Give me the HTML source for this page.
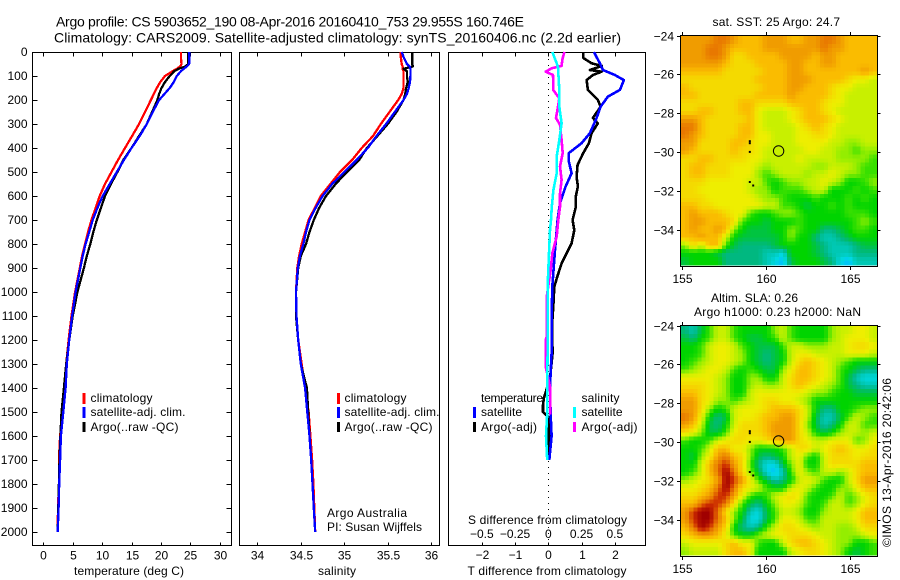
<!DOCTYPE html>
<html lang="en">
<head>
<meta charset="utf-8">
<title>Argo profile chart</title>
<style>
html,body{margin:0;padding:0;background:#fff;}
svg{display:block;font-family:"Liberation Sans",sans-serif;}
text{fill:#000;}
</style>
</head>
<body>
<svg id="chart" xmlns="http://www.w3.org/2000/svg" width="900" height="580" viewBox="0 0 900 580">
<rect x="0" y="0" width="900" height="580" fill="#fff"/>
</svg>
<script>
// ---------- profile data ----------
var profileDepths = [0,20,50,60,70,80,100,125,150,175,200,250,300,350,400,450,500,550,600,650,700,750,800,850,900,1000,1100,1200,1300,1400,1500,1600,1700,1800,1900,2000];
var tempClim = [23.4,23.4,23.5,23.3,22.7,22,20.7,19.9,19.3,18.8,18.3,17.3,16.3,15.1,13.9,12.7,11.6,10.5,9.6,8.9,8.2,7.6,7.1,6.6,6.2,5.4,4.8,4.3,3.9,3.6,3.3,2.85,2.65,2.65,2.5,2.45];
var tempSat = [24.8,24.8,24.8,24.4,23.9,23.4,22.7,22.2,21.5,20.6,19.7,18.6,17.6,16.4,15,13.7,12.5,11.3,10.1,9.2,8.4,7.8,7.2,6.7,6.3,5.5,4.9,4.4,4,3.8,3.4,3,2.85,2.7,2.6,2.45];
var tempArgo = [24.65,24.65,24.65,24.2,23,22.3,21.5,20.7,20.1,19.7,19.4,18.5,17.6,16.3,15,13.6,12.6,11.5,10.5,9.8,9.1,8.5,8,7.4,6.9,5.8,5,4.4,3.9,3.5,3.1,2.9,2.75,2.65,2.55,2.45];
var salClim = [35.65,35.65,35.66,35.67,35.67,35.68,35.68,35.68,35.68,35.66,35.62,35.52,35.42,35.33,35.2,35.09,34.95,34.84,34.73,34.66,34.59,34.55,34.51,34.48,34.46,34.445,34.45,34.47,34.51,34.55,34.59,34.61,34.63,34.645,34.655,34.665];
var salSat = [35.66,35.68,35.72,35.75,35.76,35.76,35.76,35.755,35.74,35.72,35.68,35.58,35.48,35.37,35.27,35.14,35.0,34.86,34.75,34.67,34.6,34.56,34.53,34.49,34.465,34.445,34.45,34.47,34.5,34.55,34.575,34.6,34.62,34.635,34.65,34.665];
var salArgo = [35.78,35.78,35.78,35.79,35.68,35.72,35.72,35.73,35.71,35.7,35.68,35.6,35.5,35.38,35.26,35.17,35.03,34.9,34.79,34.71,34.65,34.6,34.56,34.5,34.47,34.445,34.445,34.47,34.5,34.57,34.585,34.6,34.62,34.635,34.65,34.665];

// ---------- difference data ----------
var diffTSatDepths = [0,47,75,96,117,158,186,228,275,338,380,421,457,505,561,630,700,825,978,1116,1255,1394,1505,1600,1700];
var diffTSat = [1.37,1.55,1.64,2.0,2.27,2.15,1.79,1.57,1.45,1.25,1.0,.62,.62,.7,.52,.35,.28,.2,.12,.1,.1,.05,.07,.1,.03];
var diffTArgoDepths = [0,25,47,58,75,82,96,117,158,200,228,275,297,338,380,421,470,520,560,600,645,700,742,797,839,881,936,978,1061,1140,1255,1360,1440,1470,1500,1520,1600,1700];
var diffTArgo = [1.05,1.05,1.30,1.61,1.25,1.60,1.34,1.15,1.19,1.49,1.57,1.34,1.49,1.30,1.22,1.05,.88,.85,.89,.83,.83,.73,.78,.70,.55,.40,.27,.18,.15,.11,.13,.05,-.13,-.16,-.16,0,.02,.02];
var diffSSatDepths = [0,47,65,158,228,297,367,436,505,575,645,700,742,839,978,1116,1255,1394,1505,1600,1700];
var diffSSat = [.03,.063,.073,.083,.083,.10,.083,.063,.063,.038,.026,.02,.013,.005,-.005,-.005,-.005,-.008,-.008,-.017,-.008];
var diffSArgoDepths = [0,33,58,68,82,96,130,158,193,228,275,303,367,421,477,533,589,645,700,769,839,908,1020,1116,1186,1200,1310,1394,1510];
var diffSArgo = [.12,.105,.10,.025,-.02,.035,.037,.037,.083,.073,.058,.088,.10,.108,.088,.10,.088,.088,.075,.063,.03,.018,-.012,-.012,-.012,-.02,-.02,.013,.015];

// ---------- tick labels ----------
var depthTicks = [0,100,200,300,400,500,600,700,800,900,1000,1100,1200,1300,1400,1500,1600,1700,1800,1900,2000];
var tempTicks = [0,5,10,15,20,25,30];
var salTicks = [34,34.5,35,35.5,36];
var diffTTicks = [-2,-1,0,1,2];
var diffSTicks = [-0.5,-0.25,0,0.25,0.5];
var latTicks = [-24,-26,-28,-30,-32,-34];
var lonTicks = [155,160,165];

// ---------- map data (colour-level per cell; 0 = dark red ... 15 = blue) ----------
var sstLevels = [
[3,3,3,3,2,2,3,4,4,4,3,3,3,4,4,3,3,2,2,3,4,4,4,4],
[3,3,3,2,2,3,4,4,4,4,3,3,3,3,3,3,3,2,3,3,4,4,4,4],
[3,3,3,2,2,3,5,5,4,4,4,4,3,3,3,3,4,3,3,4,4,4,4,4],
[3,3,3,3,3,4,5,5,5,4,4,4,4,3,3,4,4,3,3,4,4,4,4,4],
[4,4,4,4,4,5,5,5,5,5,4,4,4,3,3,4,4,4,4,4,4,4,3,4],
[5,5,5,5,5,5,5,5,5,4,4,4,4,3,3,3,4,4,4,4,5,6,6,7],
[4,5,5,5,5,5,5,5,5,5,4,4,4,3,3,4,4,4,5,6,6,7,7,7],
[4,4,5,5,5,5,5,5,5,4,4,4,4,3,4,4,4,4,5,6,7,7,7,7],
[5,5,5,5,5,5,5,4,4,5,5,5,5,4,4,4,4,5,6,6,7,7,7,7],
[5,5,4,4,5,5,5,4,4,6,7,7,7,6,5,4,4,5,6,7,7,7,7,7],
[3,3,4,5,5,5,5,5,4,6,7,7,7,6,5,4,4,4,5,6,7,7,7,7],
[2,2,4,5,5,5,5,4,4,6,7,7,7,7,6,5,4,5,6,7,7,7,7,7],
[2,3,4,5,5,5,5,4,4,6,6,7,7,7,6,6,5,5,6,7,7,7,7,7],
[3,3,5,5,5,5,4,4,5,6,6,7,7,7,6,6,6,6,7,7,8,8,7,7],
[3,4,5,5,5,5,4,5,5,6,7,7,7,7,7,6,6,7,7,8,8,9,8,8],
[5,5,4,4,5,5,5,5,6,6,7,7,7,7,6,7,7,7,7,8,8,8,8,9],
[5,4,4,5,5,5,6,6,6,7,8,7,7,7,7,7,8,8,7,7,7,8,9,9],
[5,4,4,5,5,5,6,6,6,8,9,8,7,7,7,8,7,7,6,7,8,8,9,9],
[5,5,5,6,6,6,6,6,7,7,9,10,9,8,8,7,7,6,7,8,10,10,9,8],
[5,5,6,6,6,6,6,6,7,8,8,10,9,9,9,8,7,7,10,10,10,9,10,9],
[5,5,5,6,6,6,6,6,6,7,8,8,9,10,10,10,9,10,10,10,9,10,9,10],
[4,4,5,5,6,6,6,6,6,6,7,7,9,9,10,11,10,10,9,10,9,10,10,10],
[4,3,4,4,4,5,6,6,9,10,10,9,8,8,9,10,10,10,10,10,9,9,9,10],
[4,3,3,4,4,4,5,9,10,10,11,10,10,10,9,10,10,10,10,10,10,9,8,9],
[4,3,4,4,3,4,8,10,11,11,11,10,10,8,9,10,10,12,12,11,10,9,9,10],
[4,4,3,4,4,7,10,11,11,11,11,11,10,8,10,10,12,13,13,12,11,10,10,10],
[8,5,7,4,4,9,11,12,12,12,12,11,10,10,10,10,11,12,13,13,13,12,11,11],
[10,10,10,10,11,12,12,12,12,12,13,13,14,10,10,10,11,12,13,13,13,12,12,12],
[11,10,10,10,10,12,12,12,12,12,13,14,15,11,10,10,10,11,12,14,15,13,13,13]
];
var slaLevels = [
[12,13,11,9,7,7,9,10,10,10,10,8,7,9,10,10,10,10,8,7,7,6,6,7],
[11,12,10,9,7,7,9,10,11,11,10,9,7,9,10,10,10,10,8,7,6,6,6,7],
[10,10,9,7,6,6,7,9,10,11,11,11,9,7,7,8,8,8,7,7,6,5,5,6],
[10,10,9,7,6,6,7,8,10,11,12,11,10,7,6,6,7,7,7,7,6,6,6,7],
[10,9,8,7,6,6,7,8,10,11,12,11,10,7,5,4,5,6,7,8,9,10,10,10],
[9,8,7,6,6,7,9,10,9,10,11,11,8,6,4,4,5,6,7,9,10,11,12,12],
[6,6,6,6,7,8,10,10,8,8,10,10,7,5,4,4,5,6,7,9,11,13,14,14],
[5,5,5,6,7,8,10,10,8,7,8,8,7,5,4,5,6,7,8,9,11,12,13,13],
[4,4,5,6,7,8,10,10,7,6,6,6,6,6,6,7,8,8,9,10,10,11,11,11],
[3,3,5,6,8,8,9,8,7,6,5,5,6,6,7,8,10,10,10,10,10,10,10,10],
[3,3,5,8,10,9,7,6,6,6,5,4,4,4,5,7,10,12,12,10,10,9,8,8],
[2,3,6,10,12,11,7,6,6,5,4,4,3,3,5,7,11,13,13,11,9,7,8,9],
[3,4,7,11,12,10,7,5,5,5,4,3,3,3,5,8,11,13,12,10,7,7,9,9],
[5,6,8,11,11,9,6,5,5,5,4,3,3,3,5,7,10,11,10,8,7,7,8,7],
[9,10,10,9,7,6,5,5,6,6,5,4,3,3,5,6,7,7,6,6,6,9,8,6],
[10,10,9,7,4,4,6,6,8,10,10,10,9,7,5,5,7,6,5,4,5,6,6,5],
[10,11,8,6,3,2,4,5,8,11,12,11,10,7,6,9,10,7,5,5,5,6,5,5],
[10,10,7,4,2,1,3,5,9,12,14,14,11,8,6,10,10,7,5,5,5,5,4,4],
[10,9,7,4,2,0,2,5,8,11,14,15,13,9,6,8,9,7,7,8,7,5,4,4],
[8,7,6,5,3,0,1,3,6,9,11,13,12,10,7,6,7,9,10,10,7,5,3,3],
[6,6,5,4,2,0,2,5,6,7,9,10,10,7,6,7,9,10,10,8,8,6,4,4],
[5,5,4,3,1,1,3,6,9,10,9,7,6,5,6,9,10,10,9,7,9,8,6,5],
[4,4,2,1,1,2,5,9,11,12,10,8,6,6,7,9,10,9,7,7,9,8,6,5],
[3,1,0,0,2,5,8,10,13,14,11,9,7,7,8,10,10,8,7,7,7,6,4,4],
[3,1,0,0,2,4,8,11,14,14,11,9,6,6,7,9,9,7,7,7,7,6,4,4],
[4,2,0,1,3,5,10,12,13,12,9,7,5,5,6,7,8,7,7,8,8,7,5,5],
[5,4,3,3,4,6,9,10,10,8,7,6,6,5,5,5,6,7,7,8,8,8,7,6],
[7,6,6,6,6,5,4,6,6,9,10,10,7,5,4,4,5,6,7,8,8,10,10,9],
[8,7,7,7,7,5,4,4,6,10,10,10,10,7,6,5,5,6,7,8,10,11,10,9]
];
var argoLon = 160.746;
var argoLat = -29.955;
var trackLons = [159.05,159.05,159.05,159.05,159.25];
var trackLats = [-29.45,-29.55,-30.0,-31.55,-31.73];

// ---------- helpers ----------
var svg = document.getElementById('chart');
var NS = 'http://www.w3.org/2000/svg';
var mapRamp = [[160,0,0],[204,44,0],[232,120,0],[240,156,0],[250,188,0],[244,218,0],[238,238,0],[200,240,0],[148,238,0],[56,224,0],[0,212,0],[0,196,64],[0,184,128],[0,200,180],[0,216,224],[0,192,255]];

function rampColour(v) {
  var lo = Math.max(0, Math.min(mapRamp.length - 1, Math.floor(v)));
  var hi = Math.min(mapRamp.length - 1, lo + 1);
  var f = Math.max(0, Math.min(1, v - lo));
  var a = mapRamp[lo], b = mapRamp[hi];
  return 'rgb(' + Math.round(a[0] + (b[0] - a[0]) * f) + ',' + Math.round(a[1] + (b[1] - a[1]) * f) + ',' + Math.round(a[2] + (b[2] - a[2]) * f) + ')';
}
function add(tag, parent) {
  var el = document.createElementNS(NS, tag);
  (parent || svg).appendChild(el);
  return el;
}
function label(parent, str, x, y, anchor, size, width, name) {
  var t = add('text', parent);
  t.setAttribute('x', x);
  t.setAttribute('y', y);
  t.setAttribute('font-size', size);
  t.setAttribute('text-anchor', anchor);
  if (width) {
    t.setAttribute('textLength', width);
    t.setAttribute('lengthAdjust', 'spacing');
  }
  t.textContent = str;
  
  
  return t;
}
function seg(parent, x1, y1, x2, y2, name) {
  var l = add('line', parent);
  l.setAttribute('x1', x1);
  l.setAttribute('y1', y1);
  l.setAttribute('x2', x2);
  l.setAttribute('y2', y2);
  l.setAttribute('stroke', '#000');
  l.setAttribute('stroke-width', 1);
  l.setAttribute('shape-rendering', 'crispEdges');
  
  
  return l;
}
function frame(parent, x0, y0, x1, y1, name) {
  var r = add('rect', parent);
  r.setAttribute('x', x0);
  r.setAttribute('y', y0);
  r.setAttribute('width', x1 - x0);
  r.setAttribute('height', y1 - y0);
  r.setAttribute('fill', 'none');
  r.setAttribute('stroke', '#000');
  r.setAttribute('stroke-width', 1);
  r.setAttribute('shape-rendering', 'crispEdges');
  
  
}
function group(name) {
  var g = add('g');
  
  
  return g;
}
function series(parent, xs, ds, xFn, colour, width, name) {
  var pts = [];
  for (var i = 0; i < xs.length; i++) {
    pts.push(xFn(xs[i]).toFixed(1) + ',' + yDepth(ds[i]).toFixed(1));
  }
  var p = add('polyline', parent);
  p.setAttribute('points', pts.join(' '));
  p.setAttribute('fill', 'none');
  p.setAttribute('stroke', colour);
  p.setAttribute('stroke-width', width);
  p.setAttribute('stroke-linejoin', 'round');
  p.setAttribute('shape-rendering', 'crispEdges');
  
  
}
function legendBar(parent, x, y, h, colour, name) {
  var r = add('rect', parent);
  r.setAttribute('x', x);
  r.setAttribute('y', y);
  r.setAttribute('width', 3);
  r.setAttribute('height', h);
  r.setAttribute('fill', colour);
  
  
}

// ---------- axis functions ----------
function yDepth(d) { return 52 + d * 0.24; }
function xTemp(v) { return 43.3 + v * 5.88; }
function xSal(v) { return 257.3 + (v - 34) * 87; }
function xDiffT(v) { return 548.3 + v * 33.3; }
function xDiffS(v) { return 548.3 + v * 133; }
function xLon(v) { return 682 + (v - 155) * 16.75; }

// ---------- titles ----------
var titles = group('figure-title');
label(titles, 'Argo profile: CS 5903652_190 08-Apr-2016 20160410_753 29.955S 160.746E', 56, 26.5, 'start', 14, 468, 'title-line-1');
label(titles, 'Climatology: CARS2009. Satellite-adjusted climatology: synTS_20160406.nc (2.2d earlier)', 54, 42.5, 'start', 14, 567, 'title-line-2');

// ---------- temperature panel ----------
var pT = group('temperature-panel');
frame(pT, 32.5, 52.5, 231.5, 545.5, 'temperature-plot-frame');
depthTicks.forEach(function (d) {
  var y = Math.round(yDepth(d)) + 0.5;
  seg(pT, 32.5, y, 37.5, y, 'depth-tick-left');
  seg(pT, 226.5, y, 231.5, y, 'depth-tick-right');
  label(pT, String(d), 27.5, y + 3.5, 'end', 12, 0, 'depth-tick-label');
});
tempTicks.forEach(function (v) {
  var x = Math.round(xTemp(v)) + 0.5;
  seg(pT, x, 52.5, x, 56.5, 'temperature-tick-top');
  seg(pT, x, 542.5, x, 545.5, 'temperature-tick-bottom');
  label(pT, String(v), x, 559.5, 'middle', 12, 0, 'temperature-tick-label');
});
label(pT, 'temperature (deg C)', 129, 575, 'middle', 12, 110, 'temperature-axis-title');
series(pT, tempClim, profileDepths, xTemp, '#ff0000', 2.3, 'temperature-climatology-line');
series(pT, tempArgo, profileDepths, xTemp, '#000000', 2.3, 'temperature-argo-line');
series(pT, tempSat, profileDepths, xTemp, '#0000ff', 2.3, 'temperature-satellite-line');
legendBar(pT, 82.5, 393, 11, '#ff0000', 'legend-swatch-climatology');
legendBar(pT, 82.5, 407, 11, '#0000ff', 'legend-swatch-satellite');
legendBar(pT, 82.5, 422, 10, '#000000', 'legend-swatch-argo');
label(pT, 'climatology', 90.5, 402, 'start', 12, 62, 'legend-label-climatology');
label(pT, 'satellite-adj. clim.', 90.5, 416, 'start', 12, 95, 'legend-label-satellite');
label(pT, 'Argo(..raw -QC)', 90.5, 431, 'start', 12, 88, 'legend-label-argo');

// ---------- salinity panel ----------
var pS = group('salinity-panel');
frame(pS, 239.5, 52.5, 439.5, 545.5, 'salinity-plot-frame');
salTicks.forEach(function (v) {
  var x = Math.round(xSal(v)) + 0.5;
  seg(pS, x, 52.5, x, 56.5, 'salinity-tick-top');
  seg(pS, x, 542.5, x, 545.5, 'salinity-tick-bottom');
  label(pS, String(v), x, 559.5, 'middle', 12, 0, 'salinity-tick-label');
});
label(pS, 'salinity', 337, 575, 'middle', 12, 38, 'salinity-axis-title');
series(pS, salClim, profileDepths, xSal, '#ff0000', 2.3, 'salinity-climatology-line');
series(pS, salArgo, profileDepths, xSal, '#000000', 2.3, 'salinity-argo-line');
series(pS, salSat, profileDepths, xSal, '#0000ff', 2.3, 'salinity-satellite-line');
legendBar(pS, 337, 393, 11, '#ff0000', 'legend-swatch-climatology');
legendBar(pS, 337, 407, 11, '#0000ff', 'legend-swatch-satellite');
legendBar(pS, 337, 422, 10, '#000000', 'legend-swatch-argo');
label(pS, 'climatology', 344.5, 402, 'start', 12, 62, 'legend-label-climatology');
label(pS, 'satellite-adj. clim.', 344.5, 416, 'start', 12, 95, 'legend-label-satellite');
label(pS, 'Argo(..raw -QC)', 344.5, 431, 'start', 12, 88, 'legend-label-argo');
label(pS, 'Argo Australia', 327, 517, 'start', 12, 80, 'argo-australia-label');
label(pS, 'PI: Susan Wijffels', 327, 531, 'start', 12, 95, 'principal-investigator-label');

// ---------- difference panel ----------
var pD = group('difference-panel');
frame(pD, 448.5, 52.5, 645.5, 545.5, 'difference-plot-frame');
var zero = add('line', pD);
zero.setAttribute('x1', 548.5);
zero.setAttribute('y1', 53);
zero.setAttribute('x2', 548.5);
zero.setAttribute('y2', 545);
zero.setAttribute('stroke', '#000');
zero.setAttribute('stroke-width', 1);
zero.setAttribute('stroke-dasharray', '1 5');


diffTTicks.forEach(function (v) {
  var x = Math.round(xDiffT(v)) + 0.5;
  seg(pD, x, 52.5, x, 56.5, 'difference-tick-top');
  seg(pD, x, 542.5, x, 545.5, 'difference-tick-bottom');
  label(pD, String(v).replace('-', '\u2212'), x, 559, 'middle', 12, 0, 'temperature-difference-tick-label');
});
diffSTicks.forEach(function (v) {
  var x = xDiffS(v);
  label(pD, String(v).replace('-', '\u2212'), x, 538, 'middle', 12, 0, 'salinity-difference-tick-label');
});
label(pD, 'S difference from climatology', 468, 524, 'start', 12, 159, 'salinity-difference-axis-title');
label(pD, 'T difference from climatology', 467.5, 575, 'start', 12, 159, 'temperature-difference-axis-title');
series(pD, diffTArgo, diffTArgoDepths, xDiffT, '#000000', 2.6, 'temperature-difference-argo-line');
series(pD, diffTSat, diffTSatDepths, xDiffT, '#0000ff', 2.6, 'temperature-difference-satellite-line');
series(pD, diffSArgo, diffSArgoDepths, xDiffS, '#ff00ff', 2.6, 'salinity-difference-argo-line');
series(pD, diffSSat, diffSSatDepths, xDiffS, '#00ffff', 2.6, 'salinity-difference-satellite-line');
label(pD, 'temperature', 481, 402, 'start', 12, 62, 'legend-heading-temperature');
label(pD, 'salinity', 581.5, 402, 'start', 12, 38, 'legend-heading-salinity');
legendBar(pD, 473, 407, 11, '#0000ff', 'legend-swatch-temperature-satellite');
legendBar(pD, 473, 422, 10, '#000000', 'legend-swatch-temperature-argo');
legendBar(pD, 573, 407, 11, '#00ffff', 'legend-swatch-salinity-satellite');
legendBar(pD, 573, 422, 10, '#ff00ff', 'legend-swatch-salinity-argo');
label(pD, 'satellite', 481, 416, 'start', 12, 41, 'legend-label-temperature-satellite');
label(pD, 'Argo(-adj)', 481, 431, 'start', 12, 56, 'legend-label-temperature-argo');
label(pD, 'satellite', 581.5, 416, 'start', 12, 41, 'legend-label-salinity-satellite');
label(pD, 'Argo(-adj)', 581.5, 431, 'start', 12, 56, 'legend-label-salinity-argo');

// ---------- maps ----------
function sampleLevel(levels, r, c) {
  var rows = levels.length, cols = levels[0].length;
  r = Math.max(0, Math.min(rows - 1, r));
  c = Math.max(0, Math.min(cols - 1, c));
  var r0 = Math.floor(r), c0 = Math.floor(c);
  var r1 = Math.min(rows - 1, r0 + 1), c1 = Math.min(cols - 1, c0 + 1);
  var fr = r - r0, fc = c - c0;
  return (levels[r0][c0] * (1 - fc) + levels[r0][c1] * fc) * (1 - fr) +
         (levels[r1][c0] * (1 - fc) + levels[r1][c1] * fc) * fr;
}
function drawMap(levels, top, bottom, tickBase, xLabelY, name) {
  var g = group(name);
  var left = 681, right = 877, imgTop = top + 1, imgBottom = bottom - 1;
  var sub = 2;
  var rows = levels.length * sub, cols = levels[0].length * sub;
  var cw = (right - left) / cols, ch = (imgBottom - imgTop) / rows;
  for (var r = 0; r < rows; r++) {
    for (var c = 0; c < cols; c++) {
      var cell = add('rect', g);
      cell.setAttribute('x', (left + c * cw).toFixed(2));
      cell.setAttribute('y', (imgTop + r * ch).toFixed(2));
      cell.setAttribute('width', (cw + 0.4).toFixed(2));
      cell.setAttribute('height', (ch + 0.4).toFixed(2));
      cell.setAttribute('fill', rampColour(sampleLevel(levels, (r + 0.5) / sub - 0.5, (c + 0.5) / sub - 0.5)));
      cell.setAttribute('shape-rendering', 'crispEdges');
      
      
    }
  }
  frame(g, 680.5, top + 0.5, 877.5, bottom + 0.5, name + '-frame');
  function yLat(v) { return tickBase + (-24 - v) * 19.4; }
  latTicks.forEach(function (v) {
    var y = Math.round(yLat(v)) + 0.5;
    seg(g, 677, y, 680.5, y, 'latitude-tick-left');
    seg(g, 877.5, y, 880.5, y, 'latitude-tick-right');
    label(g, String(v).replace('-', '\u2212'), 674, y + 4, 'end', 12, 0, 'latitude-tick-label');
  });
  lonTicks.forEach(function (v) {
    var x = Math.round(xLon(v)) + 0.5;
    seg(g, x, top - 3, x, top + 0.5, 'longitude-tick-top');
    seg(g, x, bottom + 0.5, x, bottom + 4, 'longitude-tick-bottom');
    label(g, String(v), x, xLabelY, 'middle', 12, 0, 'longitude-tick-label');
  });
  for (var i = 0; i < trackLons.length; i++) {
    var dot = add('rect', g);
    dot.setAttribute('x', (xLon(trackLons[i]) - 1).toFixed(1));
    dot.setAttribute('y', (yLat(trackLats[i]) - 1).toFixed(1));
    dot.setAttribute('width', 2);
    dot.setAttribute('height', 2);
    dot.setAttribute('fill', '#000');
    
    
  }
  var circle = add('circle', g);
  circle.setAttribute('cx', (xLon(argoLon) + 0.4).toFixed(1));
  circle.setAttribute('cy', yLat(argoLat).toFixed(1));
  circle.setAttribute('r', 5.2);
  circle.setAttribute('fill', 'none');
  circle.setAttribute('stroke', '#000');
  circle.setAttribute('stroke-width', 1);
  
  
}
drawMap(sstLevels, 35, 266, 35.5, 283, 'sst-map');
drawMap(slaLevels, 325, 556, 325.5, 573, 'sla-map');

var mapText = group('map-titles');
label(mapText, 'sat. SST: 25 Argo: 24.7', 712.5, 26, 'start', 12, 127.5, 'sst-map-title');
label(mapText, 'Altim. SLA: 0.26', 711, 302, 'start', 12, 87, 'sla-map-title');
label(mapText, 'Argo h1000: 0.23 h2000: NaN', 694, 316, 'start', 12, 167, 'argo-height-title');
var stamp = label(mapText, '\u00A9IMOS 13-Apr-2016 20:42:06', 0, 0, 'start', 12, 169, 'imos-timestamp');
stamp.setAttribute('transform', 'translate(891,547) rotate(-90)');
</script>
</body>
</html>
